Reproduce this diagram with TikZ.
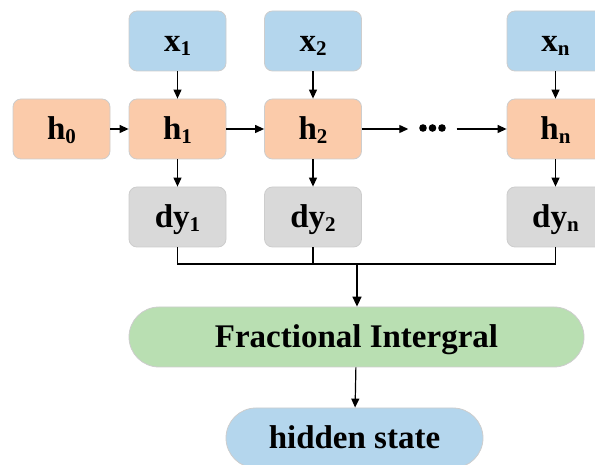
\documentclass[tikz,border=0pt]{standalone}
\usepackage{fontspec}
\setmainfont{Liberation Serif}
\usetikzlibrary{arrows.meta}

\definecolor{cblue}{RGB}{180,214,237}
\definecolor{corange}{RGB}{251,203,170}
\definecolor{cgray}{RGB}{217,217,217}
\definecolor{cgreen}{RGB}{185,223,178}
\definecolor{cedge}{RGB}{205,205,205}

% bold label with a lowered, smaller index
\newcommand\lbl[2]{#1\raisebox{-4.5pt}{\fontsize{21}{21}\selectfont #2}}

\begin{document}
\begin{tikzpicture}[x=1pt,y=1pt,
  box/.style={draw=cedge, line width=0.8pt, rounded corners=8pt,
    minimum width=97pt, minimum height=60pt, inner sep=0pt,
    text height=24pt, text depth=3pt,
    font=\fontsize{33}{38}\selectfont\bfseries},
  inbox/.style={box, fill=cblue},
  hbox/.style={box, fill=corange},
  dbox/.style={box, fill=cgray},
  pill/.style={box, rounded corners=30pt},
  link/.style={line width=1.2pt},
  arr/.style={link, -{Triangle[length=9pt,width=8pt]}},
  bigarr/.style={line width=1.6pt, -{Triangle[length=10pt,width=9pt]}}]

\useasboundingbox (0,0) rectangle (595,464);
\clip (0,0) rectangle (595,464);

% inputs
\node[inbox] (x1) at (177.5,423) {\lbl{x}{1}};
\node[inbox] (x2) at (313,423) {\lbl{x}{2}};
\node[inbox] (xn) at (555.5,423) {\lbl{x}{n}};

% hidden chain
\node[hbox] (h0) at (61.5,335) {\lbl{h}{0}};
\node[hbox] (h1) at (177.5,335) {\lbl{h}{1}};
\node[hbox] (h2) at (313,335) {\lbl{h}{2}};
\node[inner sep=0pt, minimum width=48pt, minimum height=8pt] (dots) at (432.5,335) {};
\foreach \dx in {-9.5,0,9.5}
  \fill ([xshift=\dx pt, yshift=1pt]dots.center) circle (3.8pt);
\node[hbox] (hn) at (555.5,335) {\lbl{h}{n}};

% derivative outputs
\node[dbox] (dy1) at (177.5,247) {\lbl{dy}{1}};
\node[dbox] (dy2) at (313,247) {\lbl{dy}{2}};
\node[dbox] (dyn) at (555.5,247) {\lbl{dy}{n}};

% integral and result
\node[pill, fill=cgreen, minimum width=455pt] (fi) at (356.5,127) {Fractional Intergral};
\node[pill, fill=cblue, minimum width=257pt] (hs) at (354.5,26) {hidden state};

\coordinate (jn) at (357,200);

% connectors
\draw[arr] (x1) -- (h1);
\draw[arr] (x2) -- (h2);
\draw[arr] (xn) -- (hn);
\draw[arr] (h0) -- (h1);
\draw[arr] (h1) -- (h2);
\draw[arr] (h2) -- (dots);
\draw[arr] (dots) -- (hn);
\draw[arr] (h1) -- (dy1);
\draw[arr] (h2) -- (dy2);
\draw[arr] (hn) -- (dyn);

\draw[link] (dy1.south) |- (jn) -| (dyn.south);
\draw[link] (dy2.south) -- (dy2.south |- jn);
\draw[bigarr] (jn) -- (jn |- fi.north);
\draw[arr] (fi) -- (hs);
\end{tikzpicture}
\end{document}
